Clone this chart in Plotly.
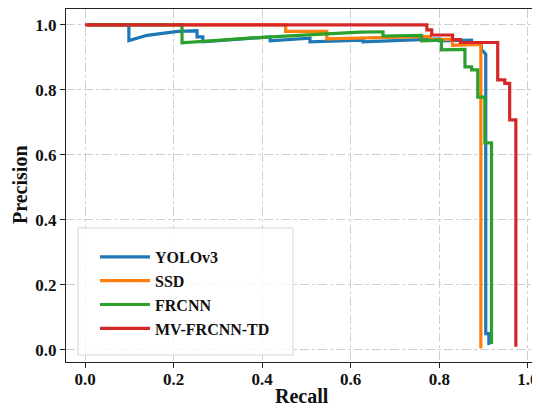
import plotly.graph_objects as go

series_names = ["YOLOv3", "SSD", "FRCNN", "MV-FRCNN-TD"]
colors = ["#1f77b4", "#ff7f0e", "#2ca02c", "#d62728"]

yolo_recall = [0.005, 0.099, 0.099, 0.14, 0.21, 0.253, 0.253, 0.266, 0.266, 0.34, 0.418, 0.418,
               0.508, 0.508, 0.628, 0.628, 0.80, 0.80, 0.873, 0.873, 0.895, 0.895, 0.905, 0.905,
               0.912, 0.912]
yolo_precision = [1.0, 1.0, 0.952, 0.968, 0.98, 0.982, 0.963, 0.963, 0.948, 0.956, 0.963, 0.951,
                  0.959, 0.948, 0.953, 0.948, 0.957, 0.951, 0.953, 0.946, 0.946, 0.925, 0.91, 0.05,
                  0.05, 0.015]

ssd_recall = [0.005, 0.453, 0.453, 0.546, 0.546, 0.70, 0.78, 0.78, 0.83, 0.83, 0.894, 0.894]
ssd_precision = [1.0, 1.0, 0.98, 0.98, 0.957, 0.963, 0.965, 0.954, 0.956, 0.937, 0.94, 0.005]

frcnn_recall = [0.005, 0.219, 0.219, 0.40, 0.62, 0.673, 0.673, 0.76, 0.76, 0.805, 0.805, 0.858,
                0.858, 0.873, 0.873, 0.887, 0.887, 0.903, 0.903, 0.918, 0.918]
frcnn_precision = [1.0, 1.0, 0.945, 0.962, 0.978, 0.979, 0.966, 0.968, 0.951, 0.953, 0.923, 0.925,
                   0.871, 0.871, 0.862, 0.862, 0.778, 0.778, 0.637, 0.637, 0.018]

mv_recall = [0.0, 0.772, 0.772, 0.783, 0.783, 0.83, 0.83, 0.848, 0.848, 0.932, 0.932, 0.948,
             0.948, 0.959, 0.959, 0.973, 0.973]
mv_precision = [1.0, 1.0, 0.985, 0.985, 0.969, 0.969, 0.955, 0.955, 0.946, 0.946, 0.831, 0.831,
                0.82, 0.82, 0.708, 0.708, 0.01]

x_ticks = [0.0, 0.2, 0.4, 0.6, 0.8, 1.0]
y_ticks = [0.0, 0.2, 0.4, 0.6, 0.8, 1.0]
tick_text = ["0.0", "0.2", "0.4", "0.6", "0.8", "1.0"]

all_x = [yolo_recall, ssd_recall, frcnn_recall, mv_recall]
all_y = [yolo_precision, ssd_precision, frcnn_precision, mv_precision]

FONT = "Liberation Serif"
# the page body has an 8px default margin; size the figure to fit the window
OFF = 8
W, H = 540 - OFF, 412 - OFF
ML, MR, MT, MB = 66 - OFF, 2, 1, 50
PW, PH = W - ML - MR, H - MT - MB


def px_to_paper_x(px):
    return (px - OFF - ML) / PW


def px_to_paper_y(py):
    return (H - MB - (py - OFF)) / PH


fig = go.Figure()
for i, (name, xs, ys, c) in enumerate(zip(series_names, all_x, all_y, colors)):
    fig.add_trace(go.Scatter(
        x=xs, y=ys, mode="lines", name=name, legendgroup=f"g{i}",
        line=dict(color=c, width=3.2),
    ))

axis_common = dict(
    showline=True, linecolor="#222222", linewidth=1.2, mirror=True,
    showgrid=True, gridcolor="#cfcfcf", gridwidth=1, griddash="dashdot",
    ticks="outside", ticklen=5, tickwidth=1.2, tickcolor="#222222",
    zeroline=False, automargin=False,
    tickfont=dict(family=FONT, size=17, color="#111111", weight="bold"),
)

fig.add_shape(
    type="rect", xref="paper", yref="paper",
    x0=px_to_paper_x(78), x1=px_to_paper_x(293),
    y0=px_to_paper_y(355), y1=px_to_paper_y(228),
    fillcolor="rgba(255,255,255,0.8)", line=dict(color="#d6d6d6", width=1),
    layer="above",
)

fig.add_annotation(
    text="<b>Recall</b>", xref="paper", yref="paper",
    x=px_to_paper_x(302), y=px_to_paper_y(396), xanchor="center", yanchor="middle",
    showarrow=False, font=dict(family=FONT, size=20, color="#111111"),
)
fig.add_annotation(
    text="<b>Precision</b>", xref="paper", yref="paper",
    x=px_to_paper_x(20), y=px_to_paper_y(185), xanchor="center", yanchor="middle",
    textangle=-90, showarrow=False, font=dict(family=FONT, size=20, color="#111111"),
)

fig.update_layout(
    width=W, height=H,
    margin=dict(l=ML, r=MR, t=MT, b=MB, autoexpand=False),
    paper_bgcolor="white", plot_bgcolor="white",
    font=dict(family=FONT, color="#111111"),
    xaxis=dict(range=[-0.043, 1.023], tickvals=x_ticks, ticktext=tick_text,
               ticklabelstandoff=-4, **axis_common),
    yaxis=dict(range=[-0.037, 1.049], tickvals=y_ticks, ticktext=tick_text, **axis_common),
    legend=dict(
        x=px_to_paper_x(95), y=px_to_paper_y(240), xanchor="left", yanchor="top",
        bgcolor="rgba(0,0,0,0)", borderwidth=0,
        font=dict(family=FONT, size=16, color="#111111", weight="bold"),
        tracegroupgap=0, itemwidth=50,
    ),
)

fig.write_html("out.html")
